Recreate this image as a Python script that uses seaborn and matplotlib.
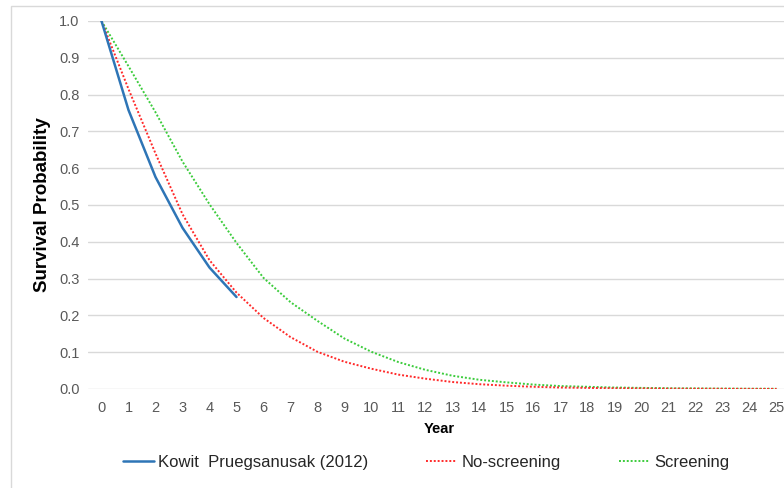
import pandas as pd
import matplotlib.pyplot as plt
import seaborn as sns
from matplotlib.patches import Rectangle

# 데이터
years = list(range(26))
kowit_years = [0, 1, 2, 3, 4, 5]
kowit = [1.0, 0.758, 0.576, 0.438, 0.330, 0.250]
no_screening = [1.0, 0.815, 0.640, 0.475, 0.350, 0.262, 0.193, 0.141, 0.101, 0.074,
                0.055, 0.039, 0.028, 0.019, 0.013, 0.009, 0.006, 0.004, 0.003, 0.002,
                0.0015, 0.001, 0.0008, 0.0006, 0.0004, 0.0003]
screening = [1.0, 0.877, 0.752, 0.618, 0.502, 0.397, 0.302, 0.236, 0.185, 0.137,
             0.101, 0.073, 0.052, 0.036, 0.025, 0.018, 0.012, 0.008, 0.006, 0.004,
             0.003, 0.002, 0.0015, 0.001, 0.0007, 0.0005]
legend_labels = ['Kowit  Pruegsanusak (2012)', 'No-screening', 'Screening']

sns.set_style('white')
plt.rcParams['font.family'] = ['Liberation Sans', 'DejaVu Sans']

fig = plt.figure(figsize=(7.84, 4.88), dpi=100)
ax = fig.add_axes([88/784, 99/488, 702/784, 368/488])

df_k = pd.DataFrame({'year': kowit_years, 'p': kowit})
df_n = pd.DataFrame({'year': years, 'p': no_screening})
df_s = pd.DataFrame({'year': years, 'p': screening})

sns.lineplot(data=df_s, x='year', y='p', ax=ax, color='#3ccc3c', lw=1.4,
             linestyle=(0, (1, 1)), label=legend_labels[2])
sns.lineplot(data=df_n, x='year', y='p', ax=ax, color='#ff2a2a', lw=1.4,
             linestyle=(0, (1, 1)), label=legend_labels[1])
sns.lineplot(data=df_k, x='year', y='p', ax=ax, color='#2e75b6', lw=1.8,
             label=legend_labels[0])

ax.set_xlim(-0.5, 25.5)
ax.set_ylim(0, 1.0)
ax.set_xticks(years)
ax.set_yticks([i / 10 for i in range(11)])
ax.set_yticklabels([f'{i / 10:.1f}' for i in range(11)])
ax.yaxis.grid(True, color='#d9d9d9', lw=1)
ax.set_axisbelow(True)
for s in ax.spines.values():
    s.set_visible(False)
ax.tick_params(axis='both', length=0, labelsize=10.5, colors='#595959')
ax.tick_params(axis='y', pad=6)
ax.tick_params(axis='x', pad=9)
ax.set_xlabel('Year', fontsize=10.5, fontweight='bold', color='black', labelpad=5)
ax.set_ylabel('Survival Probability', fontsize=13.5, fontweight='bold', color='black', labelpad=6)

h, l = ax.get_legend_handles_labels()
ax.get_legend().remove()
order = [2, 1, 0]
fig.legend([h[i] for i in order], [l[i] for i in order], loc='center',
           bbox_to_anchor=(426/784, 1 - 462/488), ncol=3, frameon=False,
           fontsize=12, handlelength=1.85, handletextpad=0.25, columnspacing=3.5,
           labelcolor='#262626')

# 바깥 테두리
fig.patches.append(Rectangle((11/784, -0.1), 1.2, 1.1 - 6/488, transform=fig.transFigure,
                             fill=False, edgecolor='#d9d9d9', lw=1))

fig.savefig('out.png', dpi=100)
